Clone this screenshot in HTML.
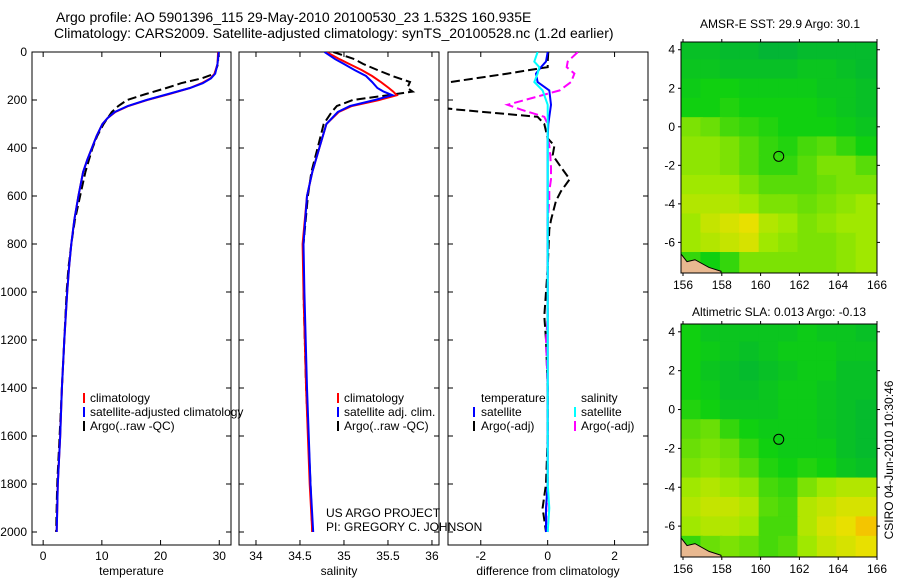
<!DOCTYPE html>
<html><head><meta charset="utf-8"><style>
body{margin:0;background:#fff;}
svg text{font-family:"Liberation Sans",sans-serif;fill:#000;}
</style></head><body>
<svg id="c" width="900" height="580" xmlns="http://www.w3.org/2000/svg">
<text x="56" y="22" font-size="14">Argo profile: AO 5901396_115 29-May-2010 20100530_23 1.532S 160.935E</text>
<text x="54" y="38" font-size="14">Climatology: CARS2009. Satellite-adjusted climatology: synTS_20100528.nc (1.2d earlier)</text>
<g id="plots"></g>
<text x="90" y="402" font-size="12">climatology</text>
<text x="90" y="416" font-size="12">satellite-adjusted climatology</text>
<text x="90" y="430" font-size="12">Argo(..raw -QC)</text>
<rect x="83" y="393" width="2" height="10" fill="#f00"/>
<rect x="83" y="407" width="2" height="10" fill="#00f"/>
<rect x="83" y="421" width="2" height="10" fill="#000"/>
<text x="344" y="402" font-size="12">climatology</text>
<text x="344" y="416" font-size="12">satellite adj. clim.</text>
<text x="344" y="430" font-size="12">Argo(..raw -QC)</text>
<rect x="337" y="393" width="2" height="10" fill="#f00"/>
<rect x="337" y="407" width="2" height="10" fill="#00f"/>
<rect x="337" y="421" width="2" height="10" fill="#000"/>
<text x="481" y="402" font-size="12">temperature</text>
<text x="481" y="416" font-size="12">satellite</text>
<text x="481" y="430" font-size="12">Argo(-adj)</text>
<rect x="473" y="407" width="2" height="10" fill="#00f"/>
<rect x="473" y="421" width="2" height="10" fill="#000"/>
<text x="581" y="402" font-size="12">salinity</text>
<text x="581" y="416" font-size="12">satellite</text>
<text x="581" y="430" font-size="12">Argo(-adj)</text>
<rect x="574" y="407" width="2" height="10" fill="#0ff"/>
<rect x="574" y="421" width="2" height="10" fill="#f0f"/>
<text x="326" y="517" font-size="12">US ARGO PROJECT</text>
<text x="326" y="531" font-size="12">PI: GREGORY C. JOHNSON</text>
<text x="780" y="28" font-size="12" text-anchor="middle">AMSR-E SST: 29.9 Argo: 30.1</text>
<text x="779" y="316" font-size="12" text-anchor="middle">Altimetric SLA: 0.013 Argo: -0.13</text>
<text transform="translate(893,460) rotate(-90)" font-size="12" text-anchor="middle">CSIRO 04-Jun-2010 10:30:46</text>
</svg>
<script>
const depthT=[0,50,90,110,130,150,175,200,225,250,275,300,350,400,450,500,600,700,800,900,1000,1200,1400,1600,1800,2000];
const tempClim=[29.8,29.7,29.2,28.5,27,25,21.5,17.7,14.5,12.3,11,10.1,9.1,8.3,7.5,6.8,6.0,5.3,4.8,4.4,4.1,3.6,3.2,2.9,2.5,2.3];
const tempSat=[29.9,29.7,29.3,28.6,27.2,25,21.3,17.6,14.4,12.2,11,10.1,9.1,8.3,7.5,6.8,6.0,5.3,4.8,4.4,4.1,3.6,3.2,2.9,2.5,2.3];
const tempArgo=[29.8,29.8,29.2,27,23.5,21,17.5,14.3,12.8,11.7,11,10.3,9.2,8.4,7.8,7.2,6.3,5.4,4.8,4.3,4.0,3.6,3.2,2.8,2.4,2.2];
const depthS=[0,30,50,75,100,125,150,165,180,200,225,250,300,400,500,600,800,1000,1400,1800,2000];
const salClim=[34.8,34.95,35.06,35.2,35.32,35.42,35.51,35.56,35.6,35.4,35.09,34.94,34.8,34.72,34.64,34.58,34.53,34.54,34.57,34.61,34.64];
const salSat=[34.78,34.9,35.0,35.12,35.25,35.32,35.38,35.45,35.55,35.35,35.07,34.93,34.8,34.72,34.64,34.58,34.54,34.55,34.58,34.62,34.65];
const salArgo=[34.88,35.12,35.22,35.38,35.55,35.75,35.72,35.78,35.5,35.1,34.92,34.86,34.77,34.7,34.63,34.59,34.54,34.54,34.57,34.62,34.64];
const depthD=[0,40,63,90,125,160,220,240,270,300,360,390,430,480,530,580,620,700,740,900,1100,1200,1400,1600,1800,1900,2000];
const diffTArgo=[0.02,0,0,-1.2,-2.9,-4,-4,-2.7,-0.3,-0.1,0,0.2,0.15,0.4,0.66,0.4,0.25,0.1,0.05,0,-0.1,-0.05,0,0,-0.05,-0.15,-0.05];
const diffTSat=[0,-0.05,-0.2,-0.35,-0.3,0.05,0.1,0.08,0.05,0.02,0,0,0,0,0,0,0,0,0,0,0,0,0,0,0,-0.05,-0.05];
const diffSArgo=[0.9,0.6,0.57,0.8,0.7,0.36,-1.2,-0.8,-0.1,0,0,0.05,0.08,0.1,0.1,0.05,0.05,0,0,0,0,-0.05,0,0,0,0.03,0];
const diffSSat=[-0.3,-0.4,-0.25,-0.3,-0.4,-0.15,0,0,0,0,0,0,0,0,0,0,0,0,0,0,0,0,0,0,0,0.05,0];
const tempTicks=[0,10,20,30], salTicks=[34,34.5,35,35.5,36], diffTicks=[-2,0,2], depthTicks=[0,200,400,600,800,1000,1200,1400,1600,1800,2000];
const sstGrid=[
[.15,.15,.1,.1,.05,.05,.1,.1,.1,.1],[.2,.2,.15,.15,.15,.15,.2,.2,.15,.1],[.25,.3,.3,.25,.25,.25,.25,.2,.2,.15],
[.3,.3,.35,.3,.3,.3,.3,.25,.2,.15],[.6,.55,.45,.4,.35,.3,.3,.3,.25,.2],[.65,.65,.6,.5,.4,.35,.45,.5,.4,.3],
[.65,.65,.6,.5,.4,.4,.5,.6,.6,.5],[.7,.7,.7,.6,.5,.5,.5,.55,.6,.6],[.75,.75,.75,.7,.6,.6,.55,.6,.65,.7],
[.7,.8,.85,.9,.75,.7,.6,.65,.7,.7],[.7,.75,.8,.85,.7,.65,.6,.6,.65,.7],[.4,.3,.4,.6,.6,.6,.6,.6,.65,.7]];
const slaGrid=[
[.3,.2,.2,.2,.2,.2,.25,.2,.2,.15],[.3,.25,.2,.15,.2,.25,.25,.25,.2,.2],[.3,.2,.15,.1,.15,.2,.25,.25,.15,.15],
[.3,.25,.15,.15,.2,.25,.25,.2,.15,.15],[.35,.3,.2,.2,.2,.25,.25,.2,.15,.1],[.5,.55,.4,.3,.25,.25,.25,.2,.15,.1],
[.55,.6,.55,.4,.3,.25,.25,.25,.15,.1],[.6,.65,.6,.5,.35,.3,.35,.3,.2,.15],[.7,.75,.7,.65,.45,.4,.6,.7,.75,.75],
[.75,.8,.8,.75,.5,.45,.75,.8,.85,.85],[.7,.75,.75,.7,.45,.45,.75,.85,.9,.95],[.4,.55,.6,.55,.45,.5,.7,.8,.85,.9]];
const mapLonTicks=[156,158,160,162,164,166], mapLatTicks=[4,2,0,-2,-4,-6];
const argoLon=160.935, argoLat=-1.532;

const NS="http://www.w3.org/2000/svg";
const root=document.getElementById('plots');
function mk(tag,at,parent){const e=document.createElementNS(NS,tag);for(const k in at)e.setAttribute(k,at[k]);(parent||root).appendChild(e);return e;}
function lin(d0,d1,r0,r1){return v=>r0+(v-d0)/(d1-d0)*(r1-r0);}
const yD=lin(0,2000,52,532);

function panel(name,x0,x1,xd0,xd1,xt,label,ylabels){
  const g=mk('g',{});
  
  
  const r=mk('rect',{x:x0,y:52,width:x1-x0,height:493,fill:'none',stroke:'#000','stroke-width':1},g);
  
  
  const xs=lin(xd0,xd1,x0,x1);
  xt.forEach(t=>{const px=xs(t);
    mk('line',{x1:px,x2:px,y1:545,y2:540,stroke:'#000'},g);
    mk('line',{x1:px,x2:px,y1:52,y2:57,stroke:'#000'},g);
    const tx=mk('text',{x:px,y:560,'font-size':12,'text-anchor':'middle'},g);tx.textContent=t;
    
    });
  depthTicks.forEach(t=>{const py=yD(t);
    mk('line',{x1:x0,x2:x0+5,y1:py,y2:py,stroke:'#000'},g);
    mk('line',{x1:x1,x2:x1-5,y1:py,y2:py,stroke:'#000'},g);
    if(ylabels){const tx=mk('text',{x:27,y:py+4,'font-size':12,'text-anchor':'end'},g);tx.textContent=t;
      
      }});
  const lb=mk('text',{x:(x0+x1)/2,y:575,'font-size':12,'text-anchor':'middle'},g);lb.textContent=label;
  
  
  const cid='clip'+name;const cp=mk('clipPath',{id:cid},g);mk('rect',{x:x0,y:52,width:x1-x0,height:493},cp);
  const lg=mk('g',{'clip-path':'url(#'+cid+')'},g);
  return {xs,lg};
}
function series(p,name,depths,vals,color,dash,w){
  const pts=depths.map((d,i)=>p.xs(vals[i]).toFixed(1)+','+yD(d).toFixed(1)).join(' ');
  const e=mk('polyline',{points:pts,fill:'none',stroke:color,'stroke-width':w||2,'stroke-dasharray':dash||'none'},p.lg);
  
  
}
const p1=panel('temperature-panel',32,231,-1.9,32,tempTicks,'temperature',true);
series(p1,'temp-argo-line',depthT,tempArgo,'#000','9,4');
series(p1,'temp-climatology-line',depthT,tempClim,'#f00');
series(p1,'temp-satellite-line',depthT,tempSat,'#00f');
const p2=panel('salinity-panel',239,439,33.807,36.08,salTicks,'salinity',false);
series(p2,'sal-argo-line',depthS,salArgo,'#000','9,4');
series(p2,'sal-climatology-line',depthS,salClim,'#f00');
series(p2,'sal-satellite-line',depthS,salSat,'#00f');
const p3=panel('difference-panel',448,648,-2.98,3.0,diffTicks,'difference from climatology',false);
series(p3,'diff-temp-argo-line',depthD,diffTArgo,'#000','9,4');
series(p3,'diff-sal-argo-line',depthD,diffSArgo,'#f0f','9,4');
series(p3,'diff-temp-sat-line',depthD,diffTSat,'#00f');
series(p3,'diff-sal-sat-line',depthD,diffSSat,'#0ff');

const stops=[[0,[0,176,60]],[0.3,[16,208,16]],[0.7,[160,232,0]],[0.9,[232,224,0]],[1,[255,170,0]]];
function cmap(v){for(let i=1;i<stops.length;i++){if(v<=stops[i][0]){const a=stops[i-1],b=stops[i],t=(v-a[0])/(b[0]-a[0]);
  return 'rgb('+a[1].map((c,k)=>Math.round(c+(b[1][k]-c)*t)).join(',')+')';}}return 'rgb(255,170,0)';}
function map(name,y0,y1,grid){
  const x0=681,x1=877;
  const g=mk('g',{});
  
  
  const xs=lin(156,166,683,877), ys=lin(4,-6,y0+(y1-y0)*0.0335,y0+(y1-y0)*0.8675);
  const cid='clip'+name;const cp=mk('clipPath',{id:cid},g);mk('rect',{x:x0,y:y0,width:x1-x0,height:y1-y0},cp);
  const cg=mk('g',{'clip-path':'url(#'+cid+')'},g);
  grid.forEach((row,r)=>row.forEach((v,c)=>{
    const lat=4-r;const lx=xs(156+c-0.1), rx=xs(157+c), ty=ys(lat+0.5), by=ys(lat-0.5);
    const cell=mk('rect',{x:(c==0?x0:lx),y:(r==0?y0:ty),width:rx-(c==0?x0:lx)+0.5,height:(r==grid.length-1?y1:by)-(r==0?y0:ty)+0.5,fill:cmap(v)},cg);
    
    }));
  const land=mk('polygon',{points:[[x0,ys(-6.6)],[x0+6,ys(-7.0)],[x0+14,ys(-6.9)],[x0+28,ys(-7.3)],[x0+40,ys(-7.5)],[x0+40,y1],[x0,y1]].map(p=>p.join(',')).join(' '),fill:'#e8b890',stroke:'#000','stroke-width':1},cg);
  
  
  const m=mk('circle',{cx:xs(argoLon),cy:ys(argoLat),r:5,fill:'none',stroke:'#000'},g);
  
  
  mk('rect',{x:x0,y:y0,width:x1-x0,height:y1-y0,fill:'none',stroke:'#000'},g);
  mapLonTicks.forEach(t=>{const px=xs(t);mk('line',{x1:px,x2:px,y1:y0,y2:y0-3,stroke:'#000'},g);mk('line',{x1:px,x2:px,y1:y1,y2:y1+3,stroke:'#000'},g);
    const tx=mk('text',{x:px,y:y1+16,'font-size':12,'text-anchor':'middle'},g);tx.textContent=t;
    
    });
  mapLatTicks.forEach(t=>{const py=ys(t);mk('line',{x1:x0,x2:x0-3,y1:py,y2:py,stroke:'#000'},g);mk('line',{x1:x1,x2:x1+3,y1:py,y2:py,stroke:'#000'},g);
    const tx=mk('text',{x:675,y:py+4,'font-size':12,'text-anchor':'end'},g);tx.textContent=t;
    
    });
}
map('sst-map',42,273,sstGrid);
map('sla-map',324,557,slaGrid);
</script>
</body></html>
